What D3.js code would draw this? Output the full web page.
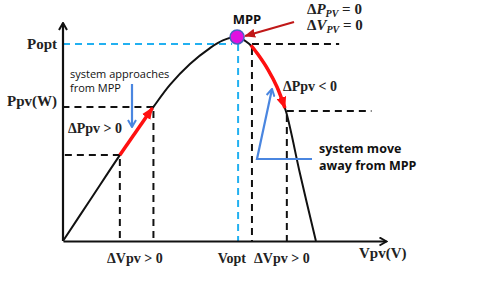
<!DOCTYPE html>
<html>
<head>
<meta charset="utf-8">
<script src="https://cdn.jsdelivr.net/npm/d3@7"></script>
<style>
  body { margin: 0; background: #fff; }
  .serif { font-family: "Liberation Serif", "Times New Roman", serif; font-weight: bold; fill: #222; }
  .note { font-family: "Open Sans", "Noto Sans", sans-serif; font-size: 11px; fill: #111; }
  .note.bold { font-size: 12.5px; font-weight: bold; }
</style>
</head>
<body>
<div id="chart"></div>
<script>
// P-V curve of the PV panel (arbitrary units, 0-100 on both axes)
var curveV = [0, 8.4, 17.6, 28.0, 33.1, 39.3, 45.5, 49.5, 53.9, 57.6, 60.4, 63.5, 66.3, 69.0, 73.4, 78.3];
var curveP = [0, 18.8, 39.4, 61.5, 71.6, 81.2, 88.5, 92.0, 93.5, 90.5, 85.5, 78.5, 70.5, 59.6, 30.7, 0];

// red arrow riding down the curve, right of MPP
var slideV = [58.2, 60.4, 63.5, 66.3, 68.7];
var slideP = [89.8, 85.5, 78.5, 70.5, 61.0];

// operating points projected onto the axes
var opV = [17.6, 28.0, 58.5, 69.3];
var opP = [39.4, 61.5, 90.4, 59.6];
var opEndV = [0, 0, 85.5, 95.5];   // where the horizontal dashes stop

var mppV = 53.9, mppP = 93.6, poptP = 90.4;

var svgWidth = 480, svgHeight = 283;
var svg = d3.select("#chart").append("svg")
    .attr("width", svgWidth)
    .attr("height", svgHeight);

var x = d3.scaleLinear().domain([0, 100]).range([63, 386]);
var y = d3.scaleLinear().domain([0, 100]).range([241, 23]);

var defs = svg.append("defs");
function marker(id, color, filled, w, h) {
  var m = defs.append("marker")
    .attr("id", id)
    .attr("markerUnits", "userSpaceOnUse")
    .attr("viewBox", "0 0 " + w + " " + h)
    .attr("refX", w - 1).attr("refY", h / 2)
    .attr("markerWidth", w).attr("markerHeight", h)
    .attr("orient", "auto");
  m.append("path")
    .attr("d", filled ? `M0,0L${w},${h/2}L0,${h}Z` : `M1,1L${w-1},${h/2}L1,${h-1}`)
    .attr("fill", filled ? color : "none")
    .attr("stroke", color)
    .attr("stroke-width", filled ? 0 : 2)
    .attr("stroke-linejoin", "miter");
}
marker("axisHead", "#111", false, 9, 10);
marker("redHead", "#ff1010", true, 12, 10);
marker("darkHead", "#c01818", true, 11, 9);
marker("blueHead", "#4a86e0", false, 9, 10);

var dash = "7,5";

// dashed projections (black)
opV.forEach(function(v, i) {
  svg.append("line")
    .attr("x1", x(v)).attr("y1", y(opP[i]))
    .attr("x2", x(opEndV[i])).attr("y2", y(opP[i]))
    .attr("stroke", "#111").attr("stroke-width", 2).attr("stroke-dasharray", dash);
  svg.append("line")
    .attr("x1", x(v)).attr("y1", y(opP[i]) + 4)
    .attr("x2", x(v)).attr("y2", y(0))
    .attr("stroke", "#111").attr("stroke-width", 2).attr("stroke-dasharray", dash);
});

// Popt / Vopt in light blue
svg.append("line")
  .attr("x1", x(0)).attr("y1", y(poptP))
  .attr("x2", x(mppV) - 5).attr("y2", y(poptP))
  .attr("stroke", "#22b0f0").attr("stroke-width", 2).attr("stroke-dasharray", dash);
svg.append("line")
  .attr("x1", x(mppV) + 1).attr("y1", y(mppP) + 7)
  .attr("x2", x(mppV) + 1).attr("y2", y(0))
  .attr("stroke", "#22b0f0").attr("stroke-width", 2).attr("stroke-dasharray", dash);

// axes
var xAxis = d3.axisBottom(x).tickValues([]).tickSizeOuter(0);
var yAxis = d3.axisLeft(y).tickValues([]).tickSizeOuter(0);
svg.append("g").attr("transform", `translate(0,${y(0)})`).call(xAxis)
  .select(".domain").attr("stroke", "#111").attr("stroke-width", 2.2).attr("marker-end", "url(#axisHead)");
svg.append("g").attr("transform", `translate(${x(0)},0)`).call(yAxis)
  .select(".domain").attr("stroke", "#111").attr("stroke-width", 2.2)
  .attr("d", `M0,${y(0)}V${y(100)}`).attr("marker-end", "url(#axisHead)");

// P-V curve
var line = d3.line().curve(d3.curveCatmullRom)
  .x(function(d) { return x(d[0]); })
  .y(function(d) { return y(d[1]); });
svg.append("path")
  .datum(d3.zip(curveV, curveP))
  .attr("d", line)
  .attr("fill", "none").attr("stroke", "#111").attr("stroke-width", 2);

// red arrows
svg.append("line")
  .attr("x1", x(opV[0])).attr("y1", y(opP[0]))
  .attr("x2", x(opV[1]) - 1).attr("y2", y(opP[1]) + 1)
  .attr("stroke", "#ff1010").attr("stroke-width", 3.5).attr("marker-end", "url(#redHead)");
svg.append("path")
  .datum(d3.zip(slideV, slideP))
  .attr("d", line)
  .attr("fill", "none").attr("stroke", "#ff1010").attr("stroke-width", 3.5).attr("marker-end", "url(#redHead)");

// MPP point
svg.append("circle")
  .attr("cx", x(mppV)).attr("cy", y(mppP)).attr("r", 7)
  .attr("fill", "#e010e0").attr("stroke", "#4a5fc0").attr("stroke-width", 1.5);

// dark red arrow pointing to MPP
svg.append("line")
  .attr("x1", 294).attr("y1", 22).attr("x2", x(mppV) + 8).attr("y2", y(mppP) - 1)
  .attr("stroke", "#c01818").attr("stroke-width", 2.2).attr("marker-end", "url(#darkHead)");

// blue arrows
svg.append("line")
  .attr("x1", 132).attr("y1", 84).attr("x2", 132).attr("y2", 127)
  .attr("stroke", "#4a86e0").attr("stroke-width", 2.2).attr("marker-end", "url(#blueHead)");
svg.append("polyline")
  .attr("points", "312,159 257,159 272,89")
  .attr("fill", "none")
  .attr("stroke", "#4a86e0").attr("stroke-width", 2.2).attr("marker-end", "url(#blueHead)");

// labels
function serif(t, px, py, size, anchor) {
  return svg.append("text").attr("class", "serif")
    .attr("x", px).attr("y", py).attr("font-size", size)
    .attr("text-anchor", anchor || "start").text(t);
}
serif("Popt", 57, 49, 15, "end");
serif("Ppv(W)", 57, 106, 15, "end");
serif("\u0394Ppv > 0", 68, 133, 14);
serif("\u0394Ppv < 0", 283, 91, 14);
serif("\u0394Vpv > 0", 107, 263, 14);
serif("Vopt", 246, 263, 14, "end");
serif("\u0394Vpv > 0", 254, 263, 14);
serif("Vpv(V)", 359, 258, 15);

svg.append("text").attr("x", 247).attr("y", 24)
  .attr("text-anchor", "middle")
  .style("font-family", "'Open Sans', sans-serif").style("font-weight", "bold")
  .style("font-size", "13px").attr("fill", "#111").text("MPP");

function deltaZero(letter, py) {
  var t = svg.append("text").attr("x", 307).attr("y", py)
    .style("font-family", "'Liberation Serif', serif").style("font-weight", "bold")
    .style("font-size", "15px").attr("fill", "#222");
  t.append("tspan").text("\u0394");
  t.append("tspan").style("font-style", "italic").text(letter);
  t.append("tspan").style("font-style", "italic").style("font-size", "10px").attr("dy", 3).text("PV");
  t.append("tspan").attr("dy", -3).text(" = 0");
}
deltaZero("P", 14);
deltaZero("V", 30);

svg.append("text").attr("class", "note").attr("x", 70).attr("y", 78).text("system approaches");
svg.append("text").attr("class", "note").attr("x", 70).attr("y", 92).text("from MPP");
svg.append("text").attr("class", "note bold").attr("x", 319).attr("y", 153).text("system move");
svg.append("text").attr("class", "note bold").attr("x", 319).attr("y", 170).text("away from MPP");
</script>
</body>
</html>
